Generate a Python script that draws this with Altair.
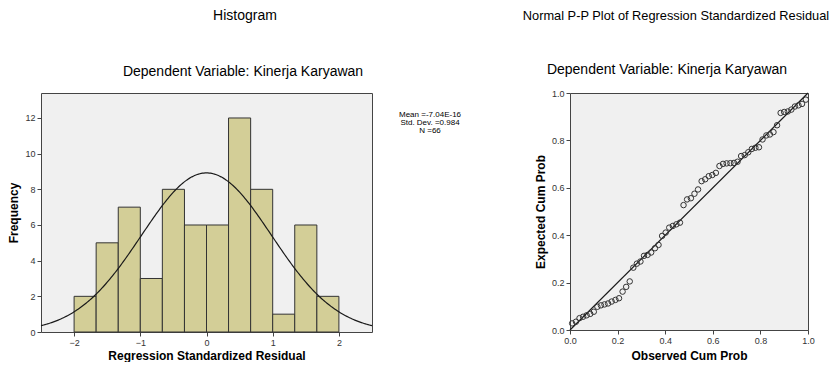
import altair as alt
import pandas as pd

# ---------------- data ----------------
bin_edges = [-2.0, -1.667, -1.333, -1.0, -0.667, -0.333, 0.0, 0.333, 0.667, 1.0, 1.333, 1.667, 2.0]
bin_counts = [2, 5, 7, 3, 8, 6, 6, 12, 8, 1, 6, 2]
res_mean = -7.04e-16
res_sd = 0.984
n_obs = 66
bin_width = 1 / 3
legend_lines = ["Mean =-7.04E-16", "Std. Dev. =0.984", "N =66"]

obs_cum_prob = [0.009, 0.025, 0.040, 0.055, 0.070, 0.085, 0.100, 0.115, 0.130, 0.145,
                0.160, 0.175, 0.191, 0.206, 0.221, 0.236, 0.251, 0.266, 0.281, 0.296,
                0.311, 0.326, 0.341, 0.357, 0.372, 0.387, 0.402, 0.417, 0.432, 0.447,
                0.462, 0.477, 0.492, 0.508, 0.523, 0.538, 0.553, 0.568, 0.583, 0.598,
                0.613, 0.628, 0.643, 0.658, 0.674, 0.689, 0.704, 0.719, 0.734, 0.749,
                0.764, 0.779, 0.794, 0.809, 0.825, 0.840, 0.855, 0.870, 0.885, 0.900,
                0.915, 0.930, 0.945, 0.960, 0.975, 0.991]
exp_cum_prob = [0.028, 0.035,
                0.050, 0.056, 0.062, 0.068, 0.077,
                0.098, 0.104, 0.108, 0.112, 0.120, 0.127, 0.134,
                0.162, 0.182, 0.205,
                0.263, 0.280, 0.289, 0.313, 0.317, 0.327, 0.345, 0.359,
                0.397, 0.411, 0.432, 0.439, 0.446, 0.453,
                0.527, 0.551, 0.556, 0.575, 0.593, 0.628,
                0.636, 0.649, 0.654, 0.663, 0.692, 0.701, 0.703, 0.704, 0.705, 0.710, 0.734, 0.738,
                0.750, 0.764, 0.769, 0.771, 0.804, 0.821, 0.825, 0.835,
                0.864,
                0.916, 0.920, 0.922, 0.930, 0.943, 0.948,
                0.954, 0.972]
diag_x = [0.0, 1.0]
diag_y = [0.0, 1.0]

hist_ticks_x = [-2, -1, 0, 1, 2]
hist_ticks_y = [0, 2, 4, 6, 8, 10, 12]
pp_ticks = [0.0, 0.2, 0.4, 0.6, 0.8, 1.0]

FONT = "Liberation Sans"
DARK = "#333333"


def label(text, x, y, size, weight="normal"):
    return alt.Chart(pd.DataFrame({"t": [text]})).mark_text(
        font=FONT, fontSize=size, fontWeight=weight, color="#000000",
        align="center", baseline="middle"
    ).encode(text="t:N", x=alt.value(x), y=alt.value(y))


# ---------------- histogram panel ----------------
hist_df = pd.DataFrame({"start": bin_edges[:-1], "end": bin_edges[1:], "count": bin_counts})

hx_scale = alt.Scale(domain=[-2.5, 2.5], nice=False, zero=False)
hy_scale = alt.Scale(domain=[0, 13.4], nice=False)
hx_axis = alt.Axis(values=hist_ticks_x, title="Regression Standardized Residual",
                   format="d", titlePadding=3, labelOverlap=False)
hy_axis = alt.Axis(values=hist_ticks_y, title="Frequency", titlePadding=4,
                   labelOverlap=False, format="d")

bars = alt.Chart(hist_df).mark_bar(fill="#D3CE97", stroke=DARK, strokeWidth=1, opacity=1).encode(
    x=alt.X("start:Q", scale=hx_scale, axis=hx_axis),
    x2="end:Q",
    y=alt.Y("count:Q", scale=hy_scale, axis=hy_axis),
    y2=alt.datum(0),
)

curve = alt.Chart(alt.sequence(-2.5, 2.5001, 0.02, as_="x")).transform_calculate(
    y=f"{n_obs}*{bin_width}*densityNormal(datum.x, {res_mean}, {res_sd})"
).mark_line(color="#1a1a1a", strokeWidth=1.2).encode(
    x=alt.X("x:Q", scale=hx_scale, axis=hx_axis),
    y=alt.Y("y:Q", scale=hy_scale, axis=hy_axis),
)

legend_y = [22, 30, 38]
legend_layers = [label(t, 389, yy, 8) for t, yy in zip(legend_lines, legend_y)]

hist_panel = alt.layer(
    bars, curve,
    label("Histogram", 204, -77, 14),
    label("Dependent Variable: Kinerja Karyawan", 202, -21, 14),
    *legend_layers,
).properties(width=331, height=239)

# ---------------- P-P panel ----------------
pp_df = pd.DataFrame({"obs": obs_cum_prob, "exp": exp_cum_prob})
diag_df = pd.DataFrame({"obs": diag_x, "exp": diag_y})

xp = alt.X("obs:Q", scale=alt.Scale(domain=[0, 1], nice=False),
           axis=alt.Axis(values=pp_ticks, format=".1f", title="Observed Cum Prob",
                         titlePadding=5, labelOverlap=False))
yp = alt.Y("exp:Q", scale=alt.Scale(domain=[0, 1], nice=False),
           axis=alt.Axis(values=pp_ticks, format=".1f", title="Expected Cum Prob",
                         titlePadding=4, labelOverlap=False))

diag = alt.Chart(diag_df).mark_line(color="#1a1a1a", strokeWidth=1.2).encode(x=xp, y=yp)
pts = alt.Chart(pp_df).mark_point(shape="circle", filled=False, size=30, color="#333333",
                                  strokeWidth=1, opacity=1).encode(x=xp, y=yp)

pp_panel = alt.layer(
    diag, pts,
    label("Normal P-P Plot of Regression Standardized Residual", 106, -77, 12.8),
    label("Dependent Variable: Kinerja Karyawan", 97, -23, 14),
).properties(width=238, height=237)

chart = alt.hconcat(hist_panel, pp_panel, spacing=198, bounds="flush").properties(
    autosize=alt.AutoSizeParams(type="none"),
    padding={"left": 33, "top": 85, "right": 791, "bottom": 269},
).configure(
    font=FONT
).configure_view(
    fill="#F0F0F0", stroke="#444444", strokeWidth=1
).configure_axis(
    grid=False, domain=False, tickColor="#444444", tickSize=4,
    labelFont=FONT, labelFontSize=9, labelColor="#333333", labelPadding=2,
    titleFont=FONT, titleFontSize=12, titleFontWeight="bold", titleColor="#000000",
    labelFlush=False, labelOverlap=False
)

chart.save("out.html", embed_options={"renderer": "svg", "actions": False})
